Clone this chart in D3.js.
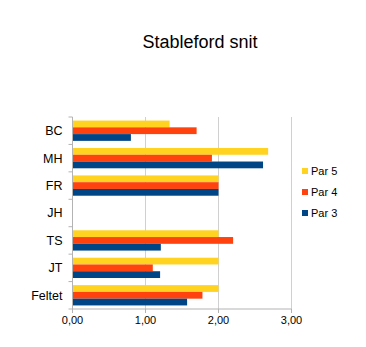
<!DOCTYPE html>
<html><head><meta charset="utf-8">
<script src="https://cdn.jsdelivr.net/npm/d3@7"></script>
<style>body{margin:0;background:#fff}</style>
</head><body>
<script>
const categories = ["BC","MH","FR","JH","TS","JT","Feltet"];
const seriesNames = ["Par 5","Par 4","Par 3"];
const par5 = [1.33, 2.68, 2.00, 0, 2.00, 2.00, 2.00];
const par4 = [1.70, 1.91, 2.00, 0, 2.20, 1.10, 1.78];
const par3 = [0.80, 2.61, 2.00, 0, 1.21, 1.20, 1.57];
const xTicks = [0,1,2,3];
const colors = ["#ffd320","#ff420e","#004586"];
const series = [par5, par4, par3];

const W = 366, H = 347;
const svg = d3.select("body").append("svg").attr("width", W).attr("height", H);
const font = "Liberation Sans, Arial, sans-serif";

svg.append("text").attr("x", 200).attr("y", 48).attr("text-anchor","middle")
  .attr("font-family", font).attr("font-size", 18).attr("fill","#000").text("Stableford snit");

const x = d3.scaleLinear().domain([0,3]).range([72.5, 291.5]);
const y = d3.scaleBand().domain(categories).range([117, 309]).paddingInner(0.26).paddingOuter(0.13);
const ys = d3.scaleBand().domain(seriesNames).range([0, y.bandwidth()]);

// grid
svg.append("g").selectAll("line").data(xTicks.slice(1)).join("line")
  .attr("x1", d=>x(d)).attr("x2", d=>x(d)).attr("y1",117).attr("y2",309)
  .attr("stroke","#d0d0d0").attr("stroke-width",1);

// bars
const g = svg.append("g");
series.forEach((vals, si) => {
  g.selectAll(null).data(categories).join("rect")
    .attr("x", x(0))
    .attr("y", (c) => y(c) + ys(seriesNames[si]))
    .attr("width", (c,i) => x(vals[i]) - x(0))
    .attr("height", ys.bandwidth())
    .attr("fill", colors[si]);
});

// y axis
const ya = svg.append("g").attr("transform",`translate(${x(0)},0)`);
ya.append("line").attr("x1",0).attr("x2",0).attr("y1",117).attr("y2",309).attr("stroke","#b3b3b3");
const sepY = d3.range(categories.length+1).map(i => 117 + i*(192/7));
ya.selectAll("line.sep").data(sepY).join("line").attr("class","sep")
  .attr("x1",-4).attr("x2",0).attr("y1",d=>d).attr("y2",d=>d).attr("stroke","#b3b3b3");
ya.selectAll("text").data(categories).join("text")
  .attr("x",-10).attr("y", c => y(c) + y.bandwidth()/2).attr("dy","0.35em")
  .attr("text-anchor","end").attr("font-family",font).attr("font-size",12.5).attr("fill","#000").text(d=>d);

// x axis
const xa = svg.append("g").attr("transform","translate(0,309)");
xa.append("line").attr("x1",x(0)).attr("x2",x(3)).attr("y1",0).attr("y2",0).attr("stroke","#b3b3b3");
xa.selectAll("line.t").data(xTicks).join("line").attr("class","t")
  .attr("x1",d=>x(d)).attr("x2",d=>x(d)).attr("y1",0).attr("y2",4).attr("stroke","#b3b3b3");
xa.selectAll("text").data(xTicks).join("text")
  .attr("x",d=>x(d)).attr("y",15).attr("text-anchor","middle")
  .attr("font-family",font).attr("font-size",11).attr("fill","#000")
  .text(d => d3.format(".2f")(d).replace(".", ","));

// legend
const lg = svg.append("g");
seriesNames.forEach((n,i) => {
  const ly = 171 + i*21;
  lg.append("rect").attr("x",302).attr("y",ly-3).attr("width",6).attr("height",6).attr("fill",colors[i]);
  lg.append("text").attr("x",311).attr("y",ly).attr("dy","0.35em")
    .attr("font-family",font).attr("font-size",11).attr("fill","#000").text(n);
});
</script>
</body></html>
